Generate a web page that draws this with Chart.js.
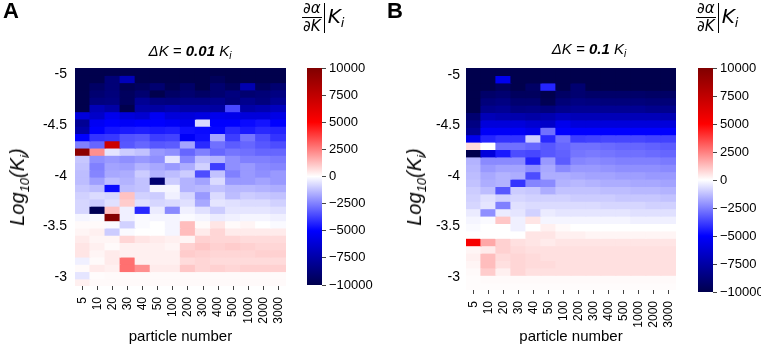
<!DOCTYPE html>
<html>
<head>
<meta charset="utf-8">
<script src="https://cdn.jsdelivr.net/npm/chart.js@4.4.1/dist/chart.umd.min.js"></script>
<style>
  html, body { margin: 0; padding: 0; background: #fff; }
  #wrap { position: relative; width: 761px; height: 348px; overflow: hidden; font-family: "Liberation Sans", Arial, sans-serif; color: #000; }
  canvas { position: absolute; top: 0; }
  .txt { position: absolute; white-space: nowrap; line-height: 1; }
  .letter { font-weight: bold; font-size: 22px; }
  .title { font-size: 15px; font-style: italic; transform: translate(-50%, -50%); }
  .title b { font-weight: bold; }
  .title sub { font-size: 10px; vertical-align: -3px; }
  .ytitle { font-size: 20px; font-style: italic; transform: translate(-50%, -50%) rotate(-90deg); }
  .ytitle sub { font-size: 13px; vertical-align: -5px; }
  .cbl { font-family: "DejaVu Sans", sans-serif; font-style: italic; display: flex; align-items: center; }
  .frac { display: inline-block; text-align: center; font-size: 15px; line-height: 15px; }
  .frac .num { display: block; border-bottom: 1px solid #000; padding: 0 1px 1px; }
  .frac .den { display: block; padding-top: 1px; }
  .vbar { display: inline-block; width: 1px; height: 30px; background: #000; margin: 0 3px 0 2px; }
  .kk { font-size: 20px; }
  .kk sub { font-size: 13px; vertical-align: -4px; }
</style>
</head>
<body>
<div id="wrap">
  <canvas id="heatA" width="300" height="348" style="left:0px"></canvas>
  <canvas id="barA" width="80" height="348" style="left:300px"></canvas>
  <canvas id="heatB" width="310" height="348" style="left:380px"></canvas>
  <canvas id="barB" width="71" height="348" style="left:690px"></canvas>

  <div class="txt letter" style="left:3px;top:0px">A</div>
  <div class="txt letter" style="left:387px;top:0px">B</div>

  <div class="txt title" style="left:190px;top:52px">ΔK = <b>0.01</b> K<sub>i</sub></div>
  <div class="txt title" style="left:589px;top:50px">ΔK = <b>0.1</b> K<sub>i</sub></div>

  <div class="txt ytitle" style="left:19px;top:187px">Log<sub>10</sub>(K<sub>i</sub>)</div>
  <div class="txt ytitle" style="left:416px;top:187px">Log<sub>10</sub>(K<sub>i</sub>)</div>

  <div class="txt cbl" style="left:302px;top:1px">
    <span class="frac"><span class="num">∂α</span><span class="den">∂K</span></span><span class="vbar"></span><span class="kk">K<sub>i</sub></span>
  </div>
  <div class="txt cbl" style="left:696px;top:1px">
    <span class="frac"><span class="num">∂α</span><span class="den">∂K</span></span><span class="vbar"></span><span class="kk">K<sub>i</sub></span>
  </div>
</div>

<script>
// particle number columns, shared by both panels
const columns = ["5", "10", "20", "30", "40", "50", "100", "200", "300", "400", "500", "1000", "2000", "3000"]

// log10(K_i) grid: first row edge and row step for each panel (30 rows)
const logKTopA = -5.065
const logKStepA = 0.0718
const logKTopB = -5.067
const logKStepB = 0.0733

const yTicks = [-5, -4.5, -4, -3.5, -3]
const cbarTicks = [-10000, -7500, -5000, -2500, 0, 2500, 5000, 7500, 10000]
const VMIN = -10000
const VMAX = 10000

// dα/dK | K_i, dK = 0.01 K_i  (rows top -> bottom, one value per column)
const panelA = [
  [-10000, -10000, -10000, -10000, -10000, -10000, -10000, -10000, -10000, -10000, -10000, -10000, -10000, -10000],
  [-10000, -10000, -8800, -7000, -10000, -10000, -10000, -10000, -10000, -9600, -10000, -10000, -10000, -10000],
  [-10000, -9300, -8800, -9800, -9500, -9000, -9800, -9200, -10000, -9000, -9500, -7200, -9500, -9000],
  [-10000, -9000, -8700, -9500, -9000, -10000, -9300, -9000, -9300, -9000, -8600, -9000, -8800, -8500],
  [-10000, -8600, -8500, -9500, -8000, -8500, -8600, -8400, -8400, -8200, -8700, -8200, -8600, -8000],
  [-10000, -7000, -7500, -10000, -7500, -7600, -7200, -7500, -7500, -7600, -3600, -7500, -7200, -6800],
  [-6000, -6500, -5500, -6000, -6300, -5300, -6000, -6000, -5800, -5500, -5600, -6000, -6000, -5700],
  [-8000, -5300, -5000, -5200, -5000, -5000, -5200, -5500, -700, -5000, -5000, -4800, -4600, -5000],
  [-7500, -5000, -4600, -4500, -4400, -4500, -4400, -4700, -4800, -4900, -4200, -4500, -4200, -4300],
  [-5000, -4000, -3900, -3400, -3300, -3800, -3700, -5200, -4700, -1800, -3800, -2700, -3500, -4000],
  [-2500, -3000, 7000, -3300, -3000, -3300, -3200, -1800, -4200, -2800, -3200, -3000, -3300, -3500],
  [9500, 2200, -500, -1000, -1200, -2000, -2200, -3000, -2500, -3000, -2700, -2800, -3000, -3000],
  [-1100, -2200, -2000, -2200, -2000, -2200, -500, -2400, -1300, -1500, -2200, -2500, -2500, -2600],
  [-1200, -2500, -1800, -1900, -1500, -1700, -2000, -1600, -900, -3800, -2200, -2000, -2300, -2400],
  [-1300, -2400, -1700, -1600, -1000, -1500, -1300, -1000, -3500, -1200, -2500, -2000, -2200, -2000],
  [-1300, -1900, -1300, -1500, -1200, -9000, -1000, -1500, -1800, -700, -2000, -2000, -1800, -2000],
  [-1100, -1300, -4800, -1300, -1200, -200, -200, -1500, -1400, -1200, -1400, -1400, -1500, -1600],
  [-900, -700, -800, 1200, -900, -1000, -300, -800, -2000, -700, -1300, -1000, -1100, -1200],
  [-800, -1000, -600, 1000, -600, -800, -700, -600, -1700, -500, -600, -700, -700, -900],
  [-800, -9800, 1200, -300, -4200, -400, -2300, -300, -600, -1000, -500, -500, -500, -600],
  [-200, -100, 9800, -300, -100, -200, -200, -100, -200, -400, -300, -200, -200, -300],
  [100, 100, -100, -900, -100, 0, -200, 1300, 100, 500, 100, 200, 0, -100],
  [200, 300, -1000, -100, 0, 0, -200, 1300, 400, 800, 400, 400, 400, 400],
  [400, 200, 200, 800, 500, 400, 300, 200, 900, 800, 800, 700, 700, 700],
  [500, 300, 100, 300, 300, 300, 200, 900, 1100, 900, 1000, 900, 800, 800],
  [500, 200, 400, 300, 300, 300, 300, 1000, 900, 800, 800, 800, 900, 900],
  [-300, 100, 400, 2800, 300, 300, 300, 700, 800, 700, 700, 700, 700, 700],
  [100, 400, 300, 2800, 2200, 400, 400, 1100, 800, 900, 800, 900, 900, 900],
  [-500, 50, 100, 100, 100, 100, 100, 100, 100, 100, 100, 100, 100, 100],
  [300, 100, 100, 100, 100, 100, 100, 100, 100, 100, 100, 100, 100, 100],
]

// dα/dK | K_i, dK = 0.1 K_i
const panelB = [
  [-10000, -10000, -10000, -10000, -10000, -10000, -10000, -10000, -10000, -10000, -10000, -10000, -10000, -10000],
  [-10000, -10000, -5500, -10000, -10000, -10000, -10000, -10000, -10000, -10000, -10000, -10000, -10000, -10000],
  [-10000, -10000, -9500, -10000, -9300, -4300, -10000, -9000, -10000, -10000, -10000, -10000, -10000, -10000],
  [-10000, -9200, -9000, -9500, -9500, -10000, -9300, -9000, -9200, -9200, -9200, -9200, -9300, -9300],
  [-10000, -8700, -8500, -9000, -9000, -9800, -8800, -8500, -8600, -8700, -8700, -8700, -8800, -8800],
  [-10000, -8200, -8000, -8500, -8400, -8600, -8200, -8000, -8000, -8000, -8000, -8000, -8200, -8200],
  [-9000, -7000, -7200, -7300, -7500, -7200, -6800, -7000, -7000, -7000, -7000, -7000, -7000, -7100],
  [-8500, -6000, -6000, -6000, -6300, -6500, -5500, -6000, -6000, -6000, -6000, -6000, -6000, -6000],
  [-8000, -5200, -5200, -5200, -5500, -2800, -5000, -5000, -5000, -5000, -5000, -5000, -5000, -5000],
  [-5500, -4300, -4000, -4000, -1000, -4200, -2800, -3800, -3700, -3600, -3600, -3600, -3700, -3700],
  [700, 0, -2800, -2800, -3000, -3300, -3000, -2800, -2800, -2900, -3000, -3000, -3100, -3200],
  [-10000, -6000, -4500, -3500, -3600, -3300, -3100, -2700, -2600, -2700, -2800, -2800, -2900, -3000],
  [-1500, -2300, -2300, -2300, -4300, -2000, -3200, -2400, -2300, -2400, -2500, -2500, -2500, -2600],
  [-1400, -2000, -1800, -1800, -2200, -1700, -2300, -2000, -2000, -2100, -2200, -2200, -2200, -2300],
  [-1300, -1700, -1500, -1600, -3500, -1600, -1600, -1700, -1800, -1800, -1900, -1900, -2000, -2000],
  [-1200, -1600, -1500, -4000, -2400, -2300, -1500, -1400, -1500, -1600, -1600, -1700, -1700, -1800],
  [-1000, -1300, -3300, -1000, -1100, -1600, -1200, -1200, -1200, -1300, -1300, -1400, -1400, -1500],
  [-900, -600, -900, -800, -900, -900, -900, -1000, -1000, -1000, -1100, -1100, -1100, -1200],
  [-800, -500, -2500, -600, -700, -700, -700, -700, -700, -800, -800, -800, -900, -900],
  [-400, -2200, -400, -500, -900, -400, -500, -500, -500, -500, -500, -600, -600, -600],
  [-200, -100, 1100, -300, 500, -200, -200, -200, -200, -200, -200, -300, -300, -300],
  [-100, 0, 0, -300, 0, 300, 100, 0, 0, 0, 0, 0, 0, 0],
  [0, 0, 0, 0, 500, 500, 300, 300, 200, 200, 200, 200, 200, 200],
  [5300, 1700, 900, 600, 500, 400, 500, 500, 500, 500, 500, 500, 500, 500],
  [200, 400, 900, 700, 600, 600, 600, 600, 600, 600, 600, 600, 600, 600],
  [300, 1300, 700, 800, 700, 600, 600, 600, 600, 600, 600, 600, 600, 600],
  [200, 1300, 600, 800, 700, 700, 600, 600, 600, 600, 600, 600, 600, 600],
  [100, 1000, 300, 800, 600, 600, 600, 600, 600, 600, 600, 600, 600, 600],
  [50, 100, 100, 100, 100, 100, 100, 100, 100, 100, 100, 100, 100, 100],
  [50, 50, 50, 50, 50, 50, 50, 50, 50, 50, 50, 50, 50, 50],
]

// matplotlib "seismic"
const SEISMIC = [
  [0, 0, 0.3],
  [0, 0, 1],
  [1, 1, 1],
  [1, 0, 0],
  [0.5, 0, 0],
]

const seismic = (v) => {
  const t = Math.max(0, Math.min(1, (v - VMIN) / (VMAX - VMIN)))
  const s = t * 4
  const i = Math.min(3, Math.floor(s))
  const f = s - i
  const c = SEISMIC[i].map((a, k) => Math.round(255 * (a + (SEISMIC[i + 1][k] - a) * f)))
  return `rgb(${c[0]},${c[1]},${c[2]})`
}

const FONT = "'Liberation Sans', Arial, sans-serif"

const makeHeatmap = (id, rows, top, step, geo) => {
  const edges = rows.map((_, i) => top + i * step).concat([top + rows.length * step])

  const datasets = rows.map((row, r) => ({
    data: row.map(() => [edges[r], edges[r + 1]]),
    backgroundColor: row.map(seismic),
    borderWidth: 0,
    inflateAmount: 0.6,
    grouped: false,
    barPercentage: 1,
    categoryPercentage: 1,
  }))

  return new Chart(document.getElementById(id), {
    type: "bar",
    data: { labels: columns, datasets },
    options: {
      responsive: false,
      animation: false,
      events: [],
      layout: { padding: { top: geo.top, right: geo.right, left: 0, bottom: 0 } },
      plugins: { legend: { display: false }, tooltip: { enabled: false } },
      scales: {
        x: {
          type: "category",
          offset: true,
          border: { display: false },
          grid: { display: true, offset: false, drawOnChartArea: false, drawTicks: true, tickLength: 4, color: "#444", lineWidth: 1 },
          ticks: { minRotation: 90, maxRotation: 90, autoSkip: false, padding: geo.xPad, color: "#000", font: { family: FONT, size: 12 } },
          title: { display: true, text: "particle number", color: "#000", font: { family: FONT, size: 15 }, padding: { top: 0, bottom: 2 } },
          afterFit: (scale) => { scale.height = geo.xHeight },
        },
        y: {
          type: "linear",
          reverse: true,
          min: edges[0],
          max: edges[edges.length - 1],
          border: { display: false },
          grid: { display: false, drawTicks: false },
          afterBuildTicks: (scale) => { scale.ticks = yTicks.map((value) => ({ value })) },
          ticks: { padding: geo.yPad, color: "#000", font: { family: FONT, size: 14 }, callback: (value) => String(value) },
          afterFit: (scale) => { scale.width = geo.yWidth },
        },
      },
    },
  })
}

const colorbarFill = (context) => {
  const area = context.chart.chartArea
  if (!area) return "#fff"
  const g = context.chart.ctx.createLinearGradient(0, area.bottom, 0, area.top)
  SEISMIC.forEach((c, i) => g.addColorStop(i / 4, `rgb(${c.map((a) => Math.round(a * 255)).join(",")})`))
  return g
}

const makeColorbar = (id, geo) => new Chart(document.getElementById(id), {
  type: "bar",
  data: {
    labels: [""],
    datasets: [{ data: [[VMIN, VMAX]], backgroundColor: colorbarFill, borderWidth: 0, barPercentage: 1, categoryPercentage: 1 }],
  },
  options: {
    responsive: false,
    animation: false,
    events: [],
    layout: { padding: { top: geo.top, bottom: geo.bottom, left: geo.left, right: 0 } },
    plugins: { legend: { display: false }, tooltip: { enabled: false } },
    scales: {
      x: { display: false },
      y: {
        position: "right",
        min: VMIN,
        max: VMAX,
        border: { display: false },
        grid: { display: true, drawOnChartArea: false, drawTicks: true, tickLength: 4, color: "#444" },
        afterBuildTicks: (scale) => { scale.ticks = cbarTicks.map((value) => ({ value })) },
        ticks: {
          padding: 3,
          color: "#000",
          font: { family: FONT, size: 13 },
          callback: (value) => (value < 0 ? "\u2212" + Math.abs(value) : String(value)),
        },
        afterFit: (scale) => { scale.width = geo.width },
      },
    },
  },
})

makeHeatmap("heatA", panelA, logKTopA, logKStepA, { top: 68, right: 7, yWidth: 75, yPad: 8, xHeight: 62, xPad: 7 })
makeHeatmap("heatB", panelB, logKTopB, logKStepB, { top: 68, right: 4, yWidth: 86, yPad: 6, xHeight: 58, xPad: 7 })
makeColorbar("barA", { top: 68, bottom: 63, left: 7, width: 58 })
makeColorbar("barB", { top: 68, bottom: 56, left: 8, width: 48 })
</script>
</body>
</html>
